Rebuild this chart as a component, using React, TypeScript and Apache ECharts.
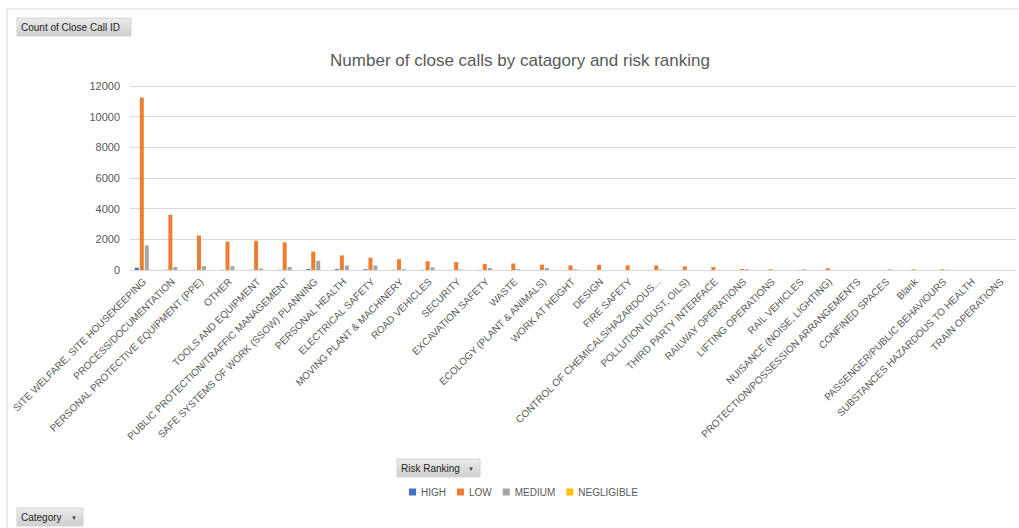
import React, { useEffect, useRef } from "react";
import * as echarts from "echarts";

const categories = [
  "SITE WELFARE, SITE HOUSEKEEPING",
  "PROCESS/DOCUMENTATION",
  "PERSONAL PROTECTIVE EQUIPMENT (PPE)",
  "OTHER",
  "TOOLS AND EQUIPMENT",
  "PUBLIC PROTECTION/TRAFFIC MANAGEMENT",
  "SAFE SYSTEMS OF WORK (SSOW) PLANNING",
  "PERSONAL HEALTH",
  "ELECTRICAL SAFETY",
  "MOVING PLANT & MACHINERY",
  "ROAD VEHICLES",
  "SECURITY",
  "EXCAVATION SAFETY",
  "WASTE",
  "ECOLOGY (PLANT & ANIMALS)",
  "WORK AT HEIGHT",
  "DESIGN",
  "FIRE SAFETY",
  "CONTROL OF CHEMICALS/HAZARDOUS...",
  "POLLUTION (DUST, OILS)",
  "THIRD PARTY INTERFACE",
  "RAILWAY OPERATIONS",
  "LIFTING OPERATIONS",
  "RAIL VEHICLES",
  "NUISANCE (NOISE, LIGHTING)",
  "PROTECTION/POSSESSION ARRANGEMENTS",
  "CONFINED SPACES",
  "Blank",
  "PASSENGER/PUBLIC BEHAVIOURS",
  "SUBSTANCES HAZARDOUS TO HEALTH",
  "TRAIN OPERATIONS",
];

const highValues = [150, 15, 15, 10, 10, 15, 60, 60, 50, 15, 15, 5, 10, 5, 5, 5, 0, 0, 5, 0, 0, 0, 0, 0, 0, 0, 0, 0, 0, 0, 0];
const lowValues = [11250, 3600, 2250, 1850, 1900, 1800, 1200, 950, 800, 700, 570, 520, 400, 430, 350, 300, 340, 300, 300, 240, 190, 60, 50, 10, 110, 0, 0, 40, 40, 0, 0];
const mediumValues = [1600, 200, 250, 250, 100, 200, 600, 300, 300, 50, 170, 30, 130, 50, 130, 40, 0, 0, 30, 0, 0, 50, 0, 40, 0, 0, 40, 0, 20, 0, 0];
const negligibleValues = [10, 0, 0, 0, 0, 0, 0, 0, 0, 0, 0, 0, 0, 0, 0, 0, 0, 0, 0, 0, 0, 0, 0, 0, 0, 0, 0, 0, 0, 0, 0];

const seriesNames = ["HIGH", "LOW", "MEDIUM", "NEGLIGIBLE"];
const seriesColors = ["#4472C4", "#ED7D31", "#A5A5A5", "#FFC000"];
const yTicks = { min: 0, max: 12000, interval: 2000 };

const FONT = "'Liberation Sans', Arial, sans-serif";

function button(x: number, y: number, w: number, h: number, label: string, arrow: boolean) {
  const children: any[] = [
    {
      type: "rect",
      shape: { x, y, width: w, height: h },
      style: {
        fill: new echarts.graphic.LinearGradient(0, 0, 0, 1, [
          { offset: 0, color: "#ececec" },
          { offset: 1, color: "#cfcfcf" },
        ]),
        stroke: "#d4d4d4",
        lineWidth: 1,
      },
    },
    {
      type: "text",
      style: {
        x: x + 4,
        y: y + h / 2,
        text: label,
        fill: "#262626",
        font: `10px ${FONT}`,
        textVerticalAlign: "middle",
        verticalAlign: "middle",
      },
    },
  ];
  if (arrow) {
    children.push({
      type: "text",
      style: {
        x: x + w - 9,
        y: y + h / 2 + 0.5,
        text: "▼",
        fill: "#404040",
        font: `6px ${FONT}`,
        align: "center",
        textAlign: "center",
        verticalAlign: "middle",
        textVerticalAlign: "middle",
      },
    });
  }
  return { type: "group", children };
}

export default function App() {
  const ref = useRef<HTMLDivElement>(null);
  useEffect(() => {
    if (!ref.current) return;
    const chart = echarts.init(ref.current, undefined, { renderer: "svg" });
    const values = [highValues, lowValues, mediumValues, negligibleValues];
    chart.setOption({
      animation: false,
      backgroundColor: "#ffffff",
      textStyle: { fontFamily: FONT },
      grid: { left: 130, right: 3, top: 86, bottom: 258, containLabel: false },
      legend: {
        left: 404,
        top: 482,
        itemWidth: 7,
        itemHeight: 7,
        itemGap: 11,
        icon: "rect",
        data: seriesNames,
        textStyle: { color: "#595959", fontSize: 10, fontFamily: FONT },
      },
      xAxis: {
        type: "category",
        data: categories,
        axisTick: { show: false },
        axisLine: { lineStyle: { color: "#d9d9d9" } },
        axisLabel: {
          rotate: 45,
          interval: 0,
          color: "#595959",
          fontSize: 10,
          fontFamily: FONT,
          margin: 10,
        },
      },
      yAxis: {
        type: "value",
        min: yTicks.min,
        max: yTicks.max,
        interval: yTicks.interval,
        axisLine: { show: false },
        axisTick: { show: false },
        splitLine: { lineStyle: { color: "#d9d9d9", width: 1 } },
        axisLabel: {
          color: "#595959",
          fontSize: 11,
          fontFamily: FONT,
          margin: 10,
          formatter: (v: number) => String(v),
        },
      },
      series: seriesNames.map((name, i) => ({
        name,
        type: "bar",
        data: values[i],
        barWidth: 4,
        barGap: "25%",
        itemStyle: { color: seriesColors[i] },
      })),
      graphic: [
        {
          type: "rect",
          silent: true,
          shape: { x: 7, y: 9, width: 1040, height: 560 },
          style: { fill: "none", stroke: "#d9d9d9", lineWidth: 1 },
        },
        button(17, 18, 114, 18, "Count of Close Call ID", false),
        button(397, 459, 83, 18, "Risk Ranking", true),
        button(17, 508, 66, 18, "Category", true),
        {
          type: "text",
          style: {
            x: 520,
            y: 60,
            text: "Number of close calls by catagory and risk ranking",
            fill: "#595959",
            font: `17px ${FONT}`,
            align: "center",
            textAlign: "center",
            verticalAlign: "middle",
            textVerticalAlign: "middle",
          },
        },
      ],
    });
    return () => chart.dispose();
  }, []);
  return (
    <div
      ref={ref}
      style={{ position: "absolute", left: 0, top: 0, width: 1019, height: 528 }}
    />
  );
}
